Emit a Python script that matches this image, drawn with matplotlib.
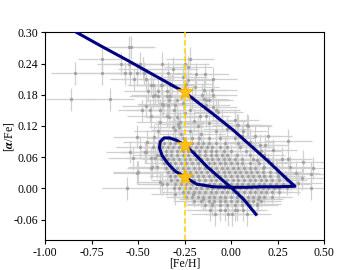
import numpy as np
import matplotlib
matplotlib.use('Agg')
import matplotlib.pyplot as plt

# model track (single continuous curve)
track_x = [-0.90, -0.83, -0.70, -0.55, -0.40, -0.25, -0.10, 0.012, 0.10,
           0.20, 0.30, 0.344, 0.25, 0.17, 0.08, 0.0, -0.095, -0.184, -0.25,
           -0.30, -0.34, -0.37, -0.385, -0.38, -0.36, -0.33, -0.29, -0.25,
           -0.20, -0.13, -0.06, 0.0, 0.07, 0.134]
track_y = [0.315, 0.300, 0.274, 0.245, 0.215, 0.185, 0.144, 0.112, 0.084,
           0.052, 0.018, 0.004, 0.003, 0.003, 0.002, 0.002, 0.003, 0.008,
           0.022, 0.033, 0.048, 0.063, 0.078, 0.090, 0.097, 0.097, 0.092,
           0.083, 0.068, 0.042, 0.020, 0.002, -0.022, -0.050]

# highlighted ages on the track
star_x = [-0.25, -0.25, -0.25]
star_y = [0.185, 0.083, 0.022]
feh_cut = -0.25

# sparse stars
sparse_x = [-0.862, -0.84, -0.692, -0.692, -0.65, -0.548, -0.538, -0.591, -0.55,
            -0.57, -0.543, -0.504, -0.52, -0.489, -0.466, -0.459, -0.475, -0.43,
            -0.409, -0.373, -0.369, -0.337, -0.31, -0.328, -0.319, -0.445, -0.418,
            -0.391, -0.378, -0.346, -0.418, -0.391, -0.346, -0.328, -0.457, -0.43,
            -0.364, -0.339, -0.30, -0.332, -0.289, -0.307, -0.289, -0.332, -0.382,
            -0.274, -0.313, -0.28, -0.48, -0.436, -0.382, -0.373, -0.346, -0.283,
            -0.249, -0.22, -0.23, -0.188, -0.14, -0.098, -0.23, -0.194, -0.158,
            -0.098, -0.134, -0.117, -0.098, -0.068, -0.144, -0.10, -0.144, -0.134,
            -0.081, -0.167, -0.134, 0.021, 0.03, 0.084, 0.039, 0.066, 0.093,
            -0.22, -0.20, -0.18, -0.12, -0.05, -0.08, -0.02, -0.22, -0.16, -0.27,
            -0.30, -0.25, -0.26, -0.21, -0.24, -0.26,
            0.308, 0.224, 0.308, 0.272, 0.317, 0.385, 0.439, 0.428, 0.428, 0.38,
            0.156, 0.183, 0.138, 0.177, 0.245, 0.10, 0.06, 0.13, 0.20, 0.35, 0.36,
            -0.561, -0.543, -0.529, -0.504, -0.462, -0.43, -0.507, -0.489, -0.459,
            -0.502, -0.432, -0.409, -0.426, -0.40, -0.391, -0.412, -0.373, -0.346,
            -0.382, -0.45, -0.42, -0.40,
            -0.307, -0.301, -0.206, -0.149, -0.104, -0.113, -0.086, -0.015, 0.004,
            -0.059, -0.032, 0.021, 0.034, 0.066, 0.084, 0.138, 0.147]
sparse_y = [0.171, 0.221, 0.249, 0.221, 0.171, 0.271, 0.271, 0.24, 0.24,
            0.221, 0.221, 0.221, 0.21, 0.24, 0.221, 0.21, 0.23, 0.199,
            0.179, 0.199, 0.24, 0.221, 0.23, 0.199, 0.198, 0.188, 0.198,
            0.188, 0.198, 0.188, 0.177, 0.177, 0.177, 0.177, 0.159, 0.139,
            0.16, 0.16, 0.16, 0.169, 0.169, 0.15, 0.138, 0.138, 0.128,
            0.128, 0.118, 0.118, 0.15, 0.15, 0.15, 0.163, 0.14, 0.124,
            0.24, 0.249, 0.233, 0.219, 0.219, 0.211, 0.209, 0.195, 0.179,
            0.179, 0.169, 0.169, 0.156, 0.147, 0.19, 0.19, 0.171, 0.16,
            0.15, 0.14, 0.14, 0.131, 0.121, 0.121, 0.121, 0.11, 0.119,
            0.15, 0.13, 0.12, 0.125, 0.13, 0.11, 0.115, 0.11, 0.105, 0.105,
            0.112, 0.145, 0.165, 0.175, 0.20, 0.215,
            0.092, 0.073, 0.057, 0.057, 0.041, 0.051, 0.039, 0.028, 0.0, 0.019,
            0.083, 0.083, 0.054, 0.041, 0.031, 0.09, 0.10, 0.10, 0.10, 0.03, 0.01,
            0.0, 0.07, 0.058, 0.03, 0.07, 0.039, 0.099, 0.079, 0.07,
            0.031, 0.058, 0.058, 0.041, 0.041, 0.11, 0.099, 0.009, 0.009,
            0.012, 0.09, 0.08, 0.065,
            0.001, -0.01, -0.01, -0.02, -0.031, -0.041, -0.05, -0.05, -0.05,
            -0.041, -0.041, -0.041, -0.041, -0.041, -0.05, -0.031, -0.02]

# dense part of the sample, one list of [Fe/H] per [alpha/Fe] row
dense_y = [0.096, 0.088, 0.080, 0.072, 0.064, 0.056, 0.048, 0.040, 0.032,
           0.024, 0.016, 0.008, 0.000, -0.008, -0.016, -0.024, -0.032]
dense_x = [
    [-0.34, -0.30, -0.26, -0.21, -0.17, -0.12, -0.06, 0.02],
    [-0.36, -0.33, -0.30, -0.27, -0.24, -0.21, -0.18, -0.15, -0.12, -0.08, -0.03, 0.04],
    [-0.37, -0.34, -0.31, -0.28, -0.25, -0.22, -0.19, -0.16, -0.13, -0.10, -0.06,
     -0.02, 0.05, 0.12],
    [-0.38, -0.35, -0.32, -0.29, -0.26, -0.23, -0.20, -0.17, -0.14, -0.11, -0.08,
     -0.04, 0.0, 0.08, 0.16],
    [-0.38, -0.35, -0.32, -0.29, -0.26, -0.23, -0.20, -0.17, -0.14, -0.11, -0.08,
     -0.05, -0.02, 0.03, 0.10, 0.18],
    [-0.37, -0.34, -0.31, -0.28, -0.25, -0.22, -0.19, -0.16, -0.13, -0.10, -0.07,
     -0.04, -0.01, 0.02, 0.06, 0.12, 0.20],
    [-0.36, -0.33, -0.30, -0.27, -0.24, -0.21, -0.18, -0.15, -0.12, -0.09, -0.06,
     -0.03, 0.0, 0.03, 0.06, 0.10, 0.15, 0.22],
    [-0.35, -0.32, -0.29, -0.26, -0.23, -0.20, -0.17, -0.14, -0.11, -0.08, -0.05,
     -0.02, 0.01, 0.04, 0.07, 0.10, 0.13, 0.17, 0.24],
    [-0.34, -0.31, -0.28, -0.25, -0.22, -0.19, -0.16, -0.13, -0.10, -0.07, -0.04,
     -0.01, 0.02, 0.05, 0.08, 0.11, 0.14, 0.17, 0.21, 0.26],
    [-0.33, -0.30, -0.27, -0.24, -0.21, -0.18, -0.15, -0.12, -0.09, -0.06, -0.03,
     0.0, 0.03, 0.06, 0.09, 0.12, 0.15, 0.18, 0.21, 0.25, 0.29],
    [-0.32, -0.29, -0.26, -0.23, -0.20, -0.17, -0.14, -0.11, -0.08, -0.05, -0.02,
     0.01, 0.04, 0.07, 0.10, 0.13, 0.16, 0.19, 0.22, 0.26, 0.30],
    [-0.30, -0.27, -0.24, -0.21, -0.18, -0.15, -0.12, -0.09, -0.06, -0.03, 0.0,
     0.03, 0.06, 0.09, 0.12, 0.15, 0.18, 0.21, 0.24, 0.28, 0.32],
    [-0.28, -0.25, -0.22, -0.19, -0.16, -0.13, -0.10, -0.07, -0.04, -0.01, 0.02,
     0.05, 0.08, 0.11, 0.14, 0.17, 0.20, 0.23, 0.26, 0.30],
    [-0.26, -0.23, -0.20, -0.17, -0.14, -0.11, -0.08, -0.05, -0.02, 0.01, 0.04,
     0.07, 0.10, 0.13, 0.16, 0.19, 0.22, 0.26],
    [-0.24, -0.21, -0.18, -0.15, -0.12, -0.09, -0.06, -0.03, 0.0, 0.03, 0.06,
     0.09, 0.12, 0.15, 0.18, 0.22],
    [-0.20, -0.16, -0.12, -0.09, -0.06, -0.03, 0.0, 0.03, 0.06, 0.09, 0.12, 0.16],
    [-0.14, -0.10, -0.06, -0.02, 0.02, 0.06, 0.10, 0.14],
]

xticks = [-1.00, -0.75, -0.50, -0.25, 0.00, 0.25, 0.50]
yticks = [-0.06, 0.00, 0.06, 0.12, 0.18, 0.24, 0.30]

plt.rcParams['font.family'] = 'Liberation Serif'
plt.rcParams['mathtext.fontset'] = 'stix'
plt.rcParams['font.size'] = 8.5

fig, ax = plt.subplots(figsize=(3.6, 2.7), dpi=100)
fig.subplots_adjust(left=0.125, right=0.9, top=0.88, bottom=0.11)

dx = np.concatenate([np.array(r) for r in dense_x])
dy = np.concatenate([np.full(len(r), y) for r, y in zip(dense_x, dense_y)])

ax.errorbar(sparse_x, sparse_y, xerr=0.13, yerr=0.022, fmt='none',
            ecolor='#d0d0d0', elinewidth=0.9, zorder=1)
ax.errorbar(dx, dy, xerr=0.11, yerr=0.012, fmt='none',
            ecolor='#d0d0d0', elinewidth=0.9, zorder=1)
ax.plot(sparse_x, sparse_y, 'o', ms=2.4, color='#a3a3a3', mec='none', zorder=2)
ax.plot(dx, dy, 'o', ms=2.4, color='#a3a3a3', mec='none', zorder=2)

ax.axvline(feh_cut, color='#ffd000', ls='--', lw=1.1, zorder=3)
ax.plot(track_x, track_y, color='#000080', lw=2.2, zorder=4)
ax.plot(star_x, star_y, '*', ms=12, color='#ffc20e', mec='#f5a800', mew=0.5, zorder=5)

ax.set_xlim(-1.0, 0.5)
ax.set_ylim(-0.1, 0.3)
ax.set_xticks(xticks)
ax.set_yticks(yticks)
ax.set_xticklabels(['%.2f' % v for v in xticks])
ax.set_yticklabels(['%.2f' % v for v in yticks])
ax.tick_params(direction='out', length=3, width=0.8, pad=2)
ax.set_xlabel('[Fe/H]')
ax.set_ylabel(r'[$\boldsymbol{\alpha}$/Fe]')
ax.xaxis.set_label_coords(0.5, -0.085)
ax.yaxis.set_label_coords(-0.105, 0.5)

plt.savefig('out.png', dpi=100)
